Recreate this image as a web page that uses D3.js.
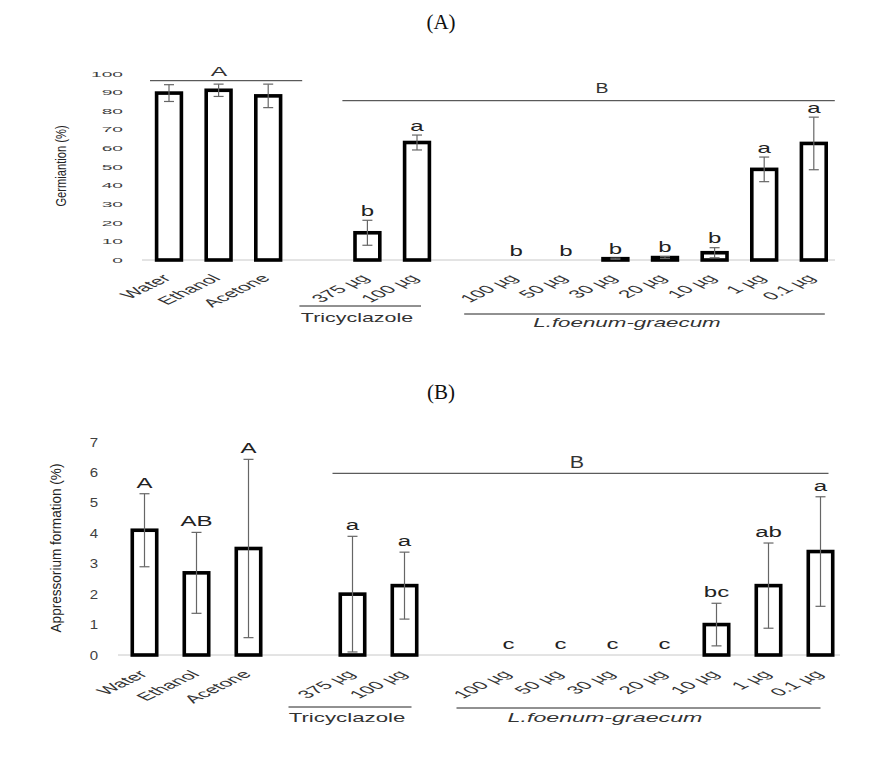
<!DOCTYPE html>
<html><head><meta charset="utf-8">
<script src="https://cdn.jsdelivr.net/npm/d3@7"></script>
<style>body{margin:0;background:#fff}svg{display:block}</style>
</head><body><svg id="c" width="875" height="764"></svg>
<script>
// ---- data ----
const categories = ["Water","Ethanol","Acetone","","375 µg","100 µg","","100 µg","50 µg","30 µg","20 µg","10 µg","1 µg","0.1 µg"];
const germination    = [89.5, 91, 88, null, 14.6, 63, null, 0, 0, 0.7, 1.3, 3.9, 48.6, 62.5];
const germinationErr = [4.5, 3.3, 6.3, null, 6.7, 4, null, 0, 0, 0.3, 0.5, 2.7, 6.6, 14.1];
const germinationLetters = ["","","",null,"b","a",null,"b","b","b","b","b","a","a"];
const appressorium    = [4.1, 2.7, 3.5, null, 2.0, 2.28, null, 0, 0, 0, 0, 1.0, 2.28, 3.4];
const appressoriumErr = [1.2, 1.33, 2.93, null, 1.9, 1.1, null, 0, 0, 0, 0, 0.7, 1.4, 1.8];
const appressoriumLetters = ["A","AB","A",null,"a","a",null,"c","c","c","c","bc","ab","a"];
const germTicks = [0,10,20,30,40,50,60,70,80,90,100];
const appTicks = [0,1,2,3,4,5,6,7];
const groupNames = ["Tricyclazole","L.foenum-graecum"];
const titles = ["(A)","(B)"];
const yTitles = ["Germiantion (%)","Appressorium formation (%)"];
const sigGroups = ["A","B"];

const svg = d3.select("#c");
const SANS = "'Liberation Sans', Arial, sans-serif";

function txt(g, x, y, s, o) {
  return g.append("text")
    .attr("transform", `translate(${x},${y}) ${o.t || ""}`)
    .attr("text-anchor", o.anchor || "middle")
    .attr("font-family", o.family || SANS)
    .attr("font-size", o.size || 12)
    .attr("font-style", o.style || "normal")
    .attr("fill", o.fill || "#222")
    .text(s);
}
function hline(g, x1, x2, y, color) {
  g.append("line").attr("x1", x1).attr("x2", x2).attr("y1", y).attr("y2", y)
    .attr("stroke", color || "#333").attr("stroke-width", 1);
}

function panel(cfg) {
  const g = svg.append("g");
  const idx = categories.map((d, i) => i);
  const x = d3.scaleBand().domain(idx).range(cfg.xRange).padding(0);
  const y = d3.scaleLinear().domain(cfg.domain).range(cfg.yRange);
  const cx = i => x(i) + x.bandwidth() / 2;
  const bw = x.bandwidth() * cfg.barFrac;
  const base = y(0);

  txt(g, 441, cfg.titleY, cfg.title, {size: 21, family: "'Liberation Serif', 'DejaVu Serif', serif", fill: "#111"});
  txt(g, cfg.yTitleX, cfg.yTitleY, cfg.yTitle, {size: cfg.yTitleSize, t: `rotate(-90) scale(${cfg.yTitleScale},1)`, fill: "#222"});

  cfg.ticks.forEach(v => {
    txt(g, cfg.tickRight, y(v) + cfg.tickDy, String(v), {anchor: "end", size: cfg.tickSize, t: `scale(${cfg.tickSx},1)`, fill: "#404040"});
  });

  hline(g, cfg.baseX[0], cfg.baseX[1], base, "#c8c8c8");

  idx.forEach(i => {
    const v = cfg.values[i];
    if (v == null || v === 0) return;
    g.append("rect").attr("x", cx(i) - bw / 2).attr("width", bw)
      .attr("y", y(v)).attr("height", base - y(v))
      .attr("fill", "#fff").attr("stroke", "#000").attr("stroke-width", 3.6);
  });
  idx.forEach(i => {
    const v = cfg.values[i], e = cfg.errs[i];
    if (v == null || !e) return;
    const y1 = y(v + e), y2 = y(Math.max(0, v - e));
    const c = cx(i);
    g.append("line").attr("x1", c).attr("x2", c).attr("y1", y1).attr("y2", y2).attr("stroke", "#666").attr("stroke-width", 1.2);
    [y1, y2].forEach(yy => g.append("line").attr("x1", c - 5).attr("x2", c + 5).attr("y1", yy).attr("y2", yy).attr("stroke", "#666").attr("stroke-width", 1.2));
  });
  idx.forEach(i => {
    const l = cfg.letters[i];
    if (!l) return;
    const v = cfg.values[i], e = cfg.errs[i] || 0;
    txt(g, cx(i), y(v + e) - cfg.letterGap, l, {size: cfg.letterSize, t: `scale(${cfg.letterSx},1)`, fill: "#222"});
  });

  idx.forEach(i => {
    if (!categories[i]) return;
    txt(g, cx(i) + cfg.xlDx, base + cfg.xlDy, categories[i], {anchor: "end", size: 13, t: "scale(1.75,0.85) rotate(-45)", fill: "#333"});
  });

  hline(g, cx(4) + cfg.triLine[0], cx(5) + cfg.triLine[1], cfg.triLine[2], "#222");
  txt(g, cfg.triText[0], cfg.triText[1], groupNames[0], {size: cfg.grpSize, t: `scale(1.65,1)`, fill: "#333"});
  hline(g, cx(7) + cfg.lfLine[0], cx(13) + cfg.lfLine[1], cfg.lfLine[2], "#222");
  txt(g, cfg.lfText[0], cfg.lfText[1], groupNames[1], {size: cfg.grpSize, style: "italic", t: `scale(1.72,1)`, fill: "#333"});

  if (cfg.sigA) {
    hline(g, cx(0) + cfg.sigA[0], cx(2) + cfg.sigA[1], cfg.sigA[2], "#333");
    txt(g, cfg.sigA[3], cfg.sigA[4], sigGroups[0], {size: 13, t: "scale(1.9,1)", fill: "#333"});
  }
  hline(g, cx(4) + cfg.sigB[0], cx(13) + cfg.sigB[1], cfg.sigB[2], "#333");
  txt(g, cfg.sigB[3], cfg.sigB[4], sigGroups[1], {size: cfg.sigBSize, t: "scale(1.3,1)", fill: "#333"});
}

panel({
  title: titles[0], titleY: 28.5,
  yTitle: yTitles[0], yTitleX: 66, yTitleY: 166, yTitleSize: 15.5, yTitleScale: 0.72,
  domain: [0, 100], yRange: [260, 73.5], xRange: [144.2, 838.6], barFrac: 0.5,
  ticks: germTicks, tickRight: 123, tickDy: 3, tickSize: 8, tickSx: 2.4,
  baseX: [142, 835],
  values: germination, errs: germinationErr, letters: germinationLetters,
  letterGap: 4.5, letterSize: 15, letterSx: 1.6,
  xlDx: 3, xlDy: 19,
  triLine: [-68, 4, 306], triText: [357, 322], lfLine: [-52, 11, 314], lfText: [627, 327], grpSize: 13,
  sigA: [-19, 34, 80.7, 219, 76], sigB: [-25, 21, 100.7, 602, 93], sigBSize: 15
});
panel({
  title: titles[1], titleY: 399,
  yTitle: yTitles[1], yTitleX: 61, yTitleY: 548, yTitleSize: 14, yTitleScale: 0.97,
  domain: [0, 7], yRange: [655, 442], xRange: [118.5, 846.5], barFrac: 0.47,
  ticks: appTicks, tickRight: 98, tickDy: 4.5, tickSize: 12, tickSx: 1.25,
  baseX: [118, 840],
  values: appressorium, errs: appressoriumErr, letters: appressoriumLetters,
  letterGap: 6, letterSize: 15.5, letterSx: 1.55,
  xlDx: 4, xlDy: 20,
  triLine: [-64, 7, 707], triText: [347, 722], lfLine: [-52, 0, 708], lfText: [605, 722], grpSize: 13.5,
  sigA: null, sigB: [-20, 8, 473.3, 577, 468], sigBSize: 16.5
});
</script>
</body></html>
